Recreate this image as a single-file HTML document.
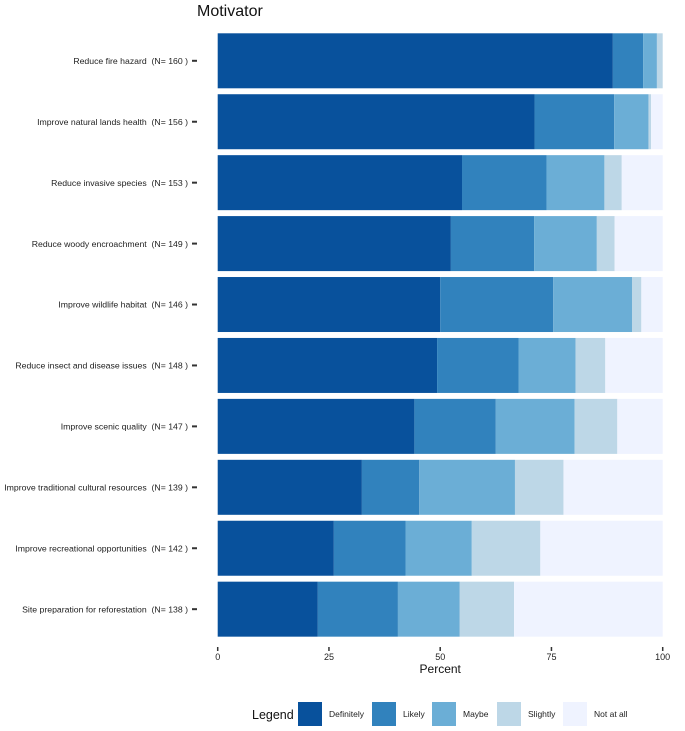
<!DOCTYPE html>
<html><head><meta charset="utf-8"><style>
body{margin:0;background:#fff;font-family:"Liberation Sans",Arial,sans-serif}
svg text{font-family:"Liberation Sans",Arial,sans-serif;white-space:pre}
</style></head><body>
<svg id="chart" width="685" height="726" xmlns="http://www.w3.org/2000/svg">
<text x="197" y="16" font-size="16" fill="#111">Motivator</text>
<g id="bars"></g><g id="ylabels"></g><g id="xaxis"></g><g id="legend"></g>
</svg>
<script>
const categories=["Reduce fire hazard","Improve natural lands health","Reduce invasive species","Reduce woody encroachment","Improve wildlife habitat","Reduce insect and disease issues","Improve scenic quality","Improve traditional cultural resources","Improve recreational opportunities","Site preparation for reforestation"];
const counts=[160,156,153,149,146,148,147,139,142,138];
const seriesNames=["Definitely","Likely","Maybe","Slightly","Not at all"];
const definitely=[88.8,71.2,54.9,52.4,50.0,49.3,44.2,32.4,26.1,22.5];
const likely=[6.8,17.9,19.0,18.7,25.4,18.3,18.3,12.9,16.1,18.0];
const maybe=[3.1,7.7,13.0,14.1,17.7,12.8,17.7,21.5,14.9,13.9];
const slightly=[1.3,0.6,3.9,4.0,2.1,6.7,9.6,10.9,15.4,12.2];
const notAtAll=[0,2.6,9.2,10.8,4.8,12.9,10.2,22.3,27.5,33.4];
const ticks=[0,25,50,75,100];
const colors=["#08519c","#3182bd","#6baed6","#bdd7e7","#eff3ff"];
const NS="http://www.w3.org/2000/svg";
const x=v=>217.7+v*4.45;
const y=i=>33.3+i*60.93;
const bh=55;
function mk(t,a,p){const e=document.createElementNS(NS,t);for(const k in a)e.setAttribute(k,a[k]);p.appendChild(e);return e;}
const series=[definitely,likely,maybe,slightly,notAtAll];
const gb=document.getElementById('bars'),gy=document.getElementById('ylabels'),gx=document.getElementById('xaxis'),gl=document.getElementById('legend');
categories.forEach((c,i)=>{
  let cum=0;
  series.forEach((s,j)=>{
    const r=mk('rect',{x:x(cum),y:y(i),width:Math.max(0,x(cum+s[i])-x(cum)),height:bh,fill:colors[j]},gb);
    
    
    cum+=s[i];
  });
  const t=mk('text',{x:188,y:y(i)+bh/2+3.2,'font-size':8.7,'text-anchor':'end',fill:'#222'},gy);
  t.textContent=c+"\u00a0\u00a0(N= "+counts[i]+" )";
  
  
  mk('line',{x1:192,x2:197,y1:y(i)+bh/2,y2:y(i)+bh/2,stroke:'#333','stroke-width':2},gy);
});
ticks.forEach(v=>{
  mk('line',{x1:x(v),x2:x(v),y1:647,y2:651,stroke:'#333','stroke-width':1.5},gx);
  const t=mk('text',{x:x(v),y:660,'font-size':9,'text-anchor':'middle',fill:'#222'},gx);
  t.textContent=v;
  
  
});
const xt=mk('text',{x:x(50),y:673,'font-size':12,'text-anchor':'middle',fill:'#111'},gx);
xt.textContent="Percent";


const lt=mk('text',{x:252,y:719,'font-size':12.5,fill:'#111'},gl);
lt.textContent="Legend";


const lx=[298,372,432,497,563];
seriesNames.forEach((n,j)=>{
  const r=mk('rect',{x:lx[j],y:702,width:24,height:24,fill:colors[j]},gl);
  
  
  const t=mk('text',{x:lx[j]+31,y:717,'font-size':8.5,fill:'#222'},gl);
  t.textContent=n;
  
  
});
</script>
</body></html>
